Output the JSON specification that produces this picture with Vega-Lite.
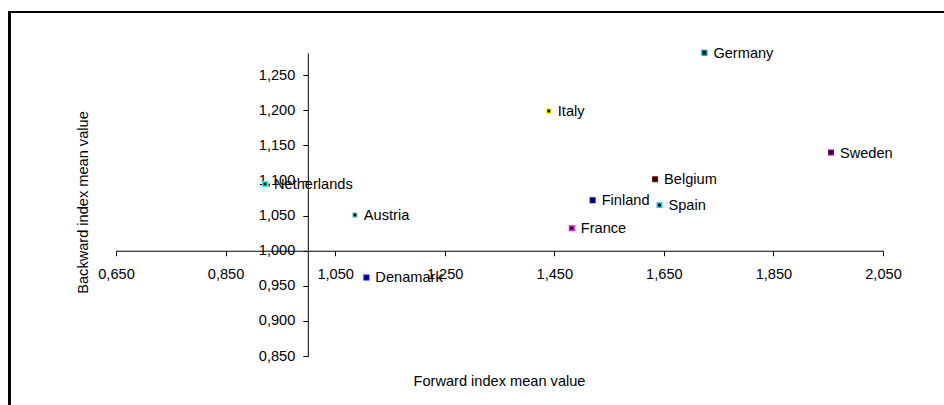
{
  "$schema": "https://vega.github.io/schema/vega-lite/v6.json",
  "width": 767,
  "height": 303,
  "autosize": {"type": "none"},
  "padding": {"left": 116, "top": 53, "right": 61, "bottom": 49},
  "background": "white",
  "config": {
    "view": {"stroke": null},
    "font": "Liberation Sans",
    "axis": {
      "domainColor": "black",
      "tickColor": "black",
      "labelColor": "black",
      "titleColor": "black",
      "labelFont": "Liberation Sans",
      "titleFont": "Liberation Sans",
      "labelFontSize": 14.6,
      "titleFontSize": 14.6,
      "titleFontWeight": "normal",
      "grid": false,
      "tickSize": 5,
      "labelFlush": false,
      "labelBound": false,
      "labelOverlap": false
    }
  },
  "data": {
    "values": [
      {"country": "Netherlands", "forward": 0.922, "backward": 1.095},
      {"country": "Austria", "forward": 1.086, "backward": 1.051},
      {"country": "Denamark", "forward": 1.107, "backward": 0.962},
      {"country": "Germany", "forward": 1.724, "backward": 1.282},
      {"country": "Italy", "forward": 1.440, "backward": 1.199},
      {"country": "Sweden", "forward": 1.955, "backward": 1.140},
      {"country": "Belgium", "forward": 1.634, "backward": 1.102},
      {"country": "Finland", "forward": 1.520, "backward": 1.072},
      {"country": "Spain", "forward": 1.642, "backward": 1.065},
      {"country": "France", "forward": 1.482, "backward": 1.032}
    ]
  },
  "layer": [
    {
      "mark": {"type": "rect", "fill": null, "stroke": "black", "strokeWidth": 2, "clip": false},
      "encoding": {
        "x": {"datum": 0.4553, "type": "quantitative", "scale": {"domain": [0.65, 2.05], "nice": false, "zero": false}},
        "x2": {"datum": 2.2},
        "y": {"datum": 1.3402, "type": "quantitative", "scale": {"domain": [0.85, 1.2818], "nice": false, "zero": false}},
        "y2": {"datum": 0.74}
      }
    },
    {
      "mark": {"type": "square", "size": 20, "opacity": 1, "strokeWidth": 1.5},
      "encoding": {
        "x": {
          "field": "forward", "type": "quantitative",
          "scale": {"domain": [0.65, 2.05], "nice": false, "zero": false},
          "axis": {
            "title": "Forward index mean value",
            "offset": -105.26,
            "values": [0.65, 0.85, 1.05, 1.25, 1.45, 1.65, 1.85, 2.05],
            "labelExpr": "replace(format(datum.value, '.3f'), '.', ',')",
            "labelPadding": 11,
            "labelOverlap": false,
            "titleX": 383,
            "titleY": 135,
            "titleBaseline": "alphabetic"
          }
        },
        "y": {
          "field": "backward", "type": "quantitative",
          "scale": {"domain": [0.85, 1.2818], "nice": false, "zero": false},
          "axis": {
            "title": "Backward index mean value",
            "offset": -191.8,
            "values": [0.85, 0.9, 0.95, 1.0, 1.05, 1.1, 1.15, 1.2, 1.25],
            "tickCount": 20,
            "labelExpr": "replace(format(datum.value, '.3f'), '.', ',')",
            "labelPadding": 8,
            "labelOverlap": false,
            "titleX": -220,
            "titleY": 149,
            "titleAngle": -90,
            "titleBaseline": "alphabetic"
          }
        },
        "stroke": {
          "field": "country", "type": "nominal", "legend": null,
          "scale": {
            "domain": ["Netherlands", "Austria", "Denamark", "Germany", "Italy", "Sweden", "Belgium", "Finland", "Spain", "France"],
            "range": ["#00FFFF", "#99E0E0", "#0000FF", "#008080", "#FFFF00", "#800080", "#800000", "#000080", "#00CCFF", "#FF00FF"]
          }
        },
        "fill": {
          "field": "country", "type": "nominal", "legend": null,
          "scale": {
            "domain": ["Netherlands", "Austria", "Denamark", "Germany", "Italy", "Sweden", "Belgium", "Finland", "Spain", "France"],
            "range": ["#000000", "#000000", "#000000", "#000000", "#000000", "#000000", "#000000", "#000080", "#000000", "#000000"]
          }
        }
      }
    },
    {
      "mark": {"type": "text", "align": "left", "baseline": "middle", "dx": 9, "dy": 1, "fontSize": 14.6, "font": "Liberation Sans", "color": "black"},
      "encoding": {
        "x": {"field": "forward", "type": "quantitative"},
        "y": {"field": "backward", "type": "quantitative"},
        "text": {"field": "country"}
      }
    }
  ]
}
